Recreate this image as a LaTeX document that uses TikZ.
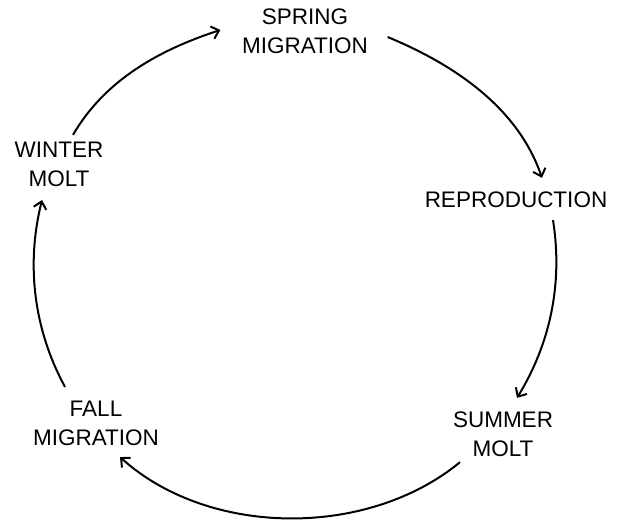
\documentclass[tikz,border=0pt]{standalone}
\usepackage{fontspec}
\setmainfont{Liberation Sans}
\usetikzlibrary{arrows.meta}
\begin{document}
\begin{tikzpicture}[x=1pt,y=1pt,
  stage/.style={align=center,inner sep=0pt,font=\fontsize{22.5}{29}\selectfont},
  cyc/.style={line width=2pt,-{Straight Barb[length=7pt,width=13pt]},looseness=0.9}]
\useasboundingbox (0,0) rectangle (621,522);
\node[stage] (spring) at (305,490.5) {SPRING\\MIGRATION};
\node[stage] (repro) at (516,322.5) {REPRODUCTION};
\node[stage] (summer) at (503,87.5) {SUMMER\\MOLT};
\node[stage] (fall) at (96,98.5) {FALL\\MIGRATION};
\node[stage] (winter) at (59,357.5) {WINTER\\MOLT};
\draw[cyc] ([shift={(14,7)}]winter.north) to[out=60,in=198] ([shift={(-21.5,1.5)}]spring.west);
\draw[cyc] ([shift={(19.5,-5.5)}]spring.east) to[out=-22.5,in=109] ([shift={(26,13.5)}]repro.north);
\draw[cyc] ([shift={(37,-12.5)}]repro.south) to[out=-81,in=58.5] ([shift={(14,14)}]summer.north);
\draw[cyc] ([shift={(-43,-5)}]summer.south) to[out=-140.5,in=-42] ([shift={(24,-11)}]fall.south);
\draw[cyc] ([shift={(-31,14)}]fall.north) to[out=118.5,in=256] ([shift={(-17,-13)}]winter.south);
\end{tikzpicture}
\end{document}
